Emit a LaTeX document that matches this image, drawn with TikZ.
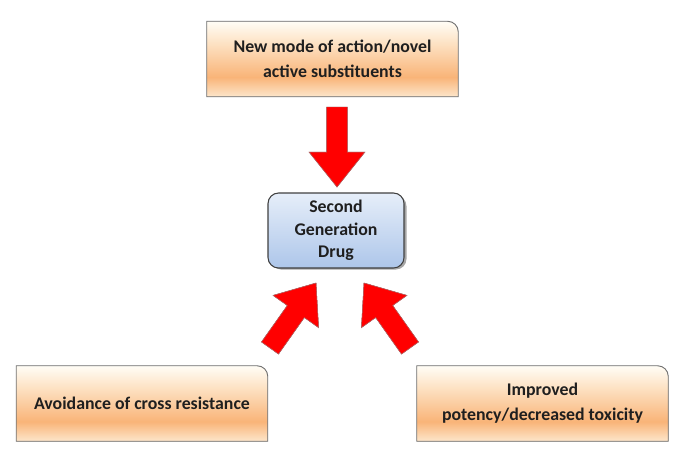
\documentclass[tikz,border=0pt]{standalone}
\usepackage{fontspec}
\setmainfont{Carlito}
\usetikzlibrary{calc,backgrounds}

\definecolor{tabtop}{HTML}{FFFDF6}
\definecolor{tablight}{HTML}{FDE1C2}
\definecolor{tabmid}{HTML}{F9B478}
\definecolor{tabbot}{HTML}{FDE6CB}
\definecolor{drugtop}{HTML}{E6EEF9}
\definecolor{drugbot}{HTML}{ADC6EA}
\definecolor{arrowred}{HTML}{FF0000}
\definecolor{arrowedge}{HTML}{7A0A0A}

\pgfdeclareverticalshading{tabshade}{100bp}{color(0bp)=(tabbot); color(25bp)=(tabbot);
  color(38bp)=(tabmid); color(60bp)=(tablight); color(75bp)=(tabtop); color(100bp)=(tabtop)}

\tikzset{
  boxtext/.style={align=center, text=black!88, font=\bfseries\fontsize{15.2}{21.5}\selectfont},
  tabbox/.style={boxtext, minimum width=7.53cm, minimum height=2.25cm},
  drugbox/.style={boxtext, minimum width=4.08cm, minimum height=2.25cm,
    font=\bfseries\fontsize{15.2}{19}\selectfont, rounded corners=9pt,
    draw=black!75, line width=0.9pt, top color=drugtop, bottom color=drugbot},
}

% box with only its top right corner rounded
\newcommand{\tabback}[1]{%
  \begin{scope}[on background layer]
    \fill[black!45, shift={(2.5,2)}] (#1.south west) -- (#1.north west)
      [rounded corners=9pt] -- (#1.north east) [sharp corners] -- (#1.south east) -- cycle;
    \shade[shading=tabshade, draw=black!55, line width=0.8pt] (#1.south west) -- (#1.north west)
      [rounded corners=9pt] -- (#1.north east) [sharp corners] -- (#1.south east) -- cycle;
  \end{scope}}

% block arrow from tail coordinate to tip coordinate
\newcommand{\fatarrow}[2]{%
  \coordinate (#1h) at ($(#2)!29.8pt!(#1)$);
  \foreach \sh/\col in {{(2.2,1)}/arrowedge,{(0,0)}/arrowred}{
    \filldraw[fill=\col, draw=arrowedge!60, line width=0.4pt, shift=\sh]
      ($(#1)!8.9pt!90:(#2)$) -- ($(#1)!8.9pt!-90:(#2)$)
      -- ($(#1h)!8.9pt!-90:(#2)$) -- ($(#1h)!23.8pt!-90:(#2)$) -- (#2)
      -- ($(#1h)!23.8pt!90:(#2)$) -- ($(#1h)!8.9pt!90:(#2)$) -- cycle;
  }}

\begin{document}
\begin{tikzpicture}[x=0.03cm,y=-0.03cm]
\useasboundingbox (0,0) rectangle (685,463);

\node[tabbox] (newmode) at (332.5,59) {New mode of action/novel\\active substituents};
\node[tabbox] (avoid) at (142,403.5) {Avoidance of cross resistance};
\node[tabbox] (improved) at (542.5,403.5) {Improved\\potency/decreased toxicity};
\tabback{newmode}
\tabback{avoid}
\tabback{improved}

\fill[black!35, rounded corners=9pt] (270.5,195.5) rectangle (406.5,269.5);
\node[drugbox] (drug) at (336,230.5) {Second\\Generation\\Drug};

\coordinate (downtail) at (337,107);
\coordinate (downtip) at (337,187);
\coordinate (lefttail) at (270,348);
\coordinate (lefttip) at (316,283);
\coordinate (righttail) at (410,348);
\coordinate (righttip) at (364,283);

\fatarrow{downtail}{downtip}
\fatarrow{lefttail}{lefttip}
\fatarrow{righttail}{righttip}
\end{tikzpicture}
\end{document}
